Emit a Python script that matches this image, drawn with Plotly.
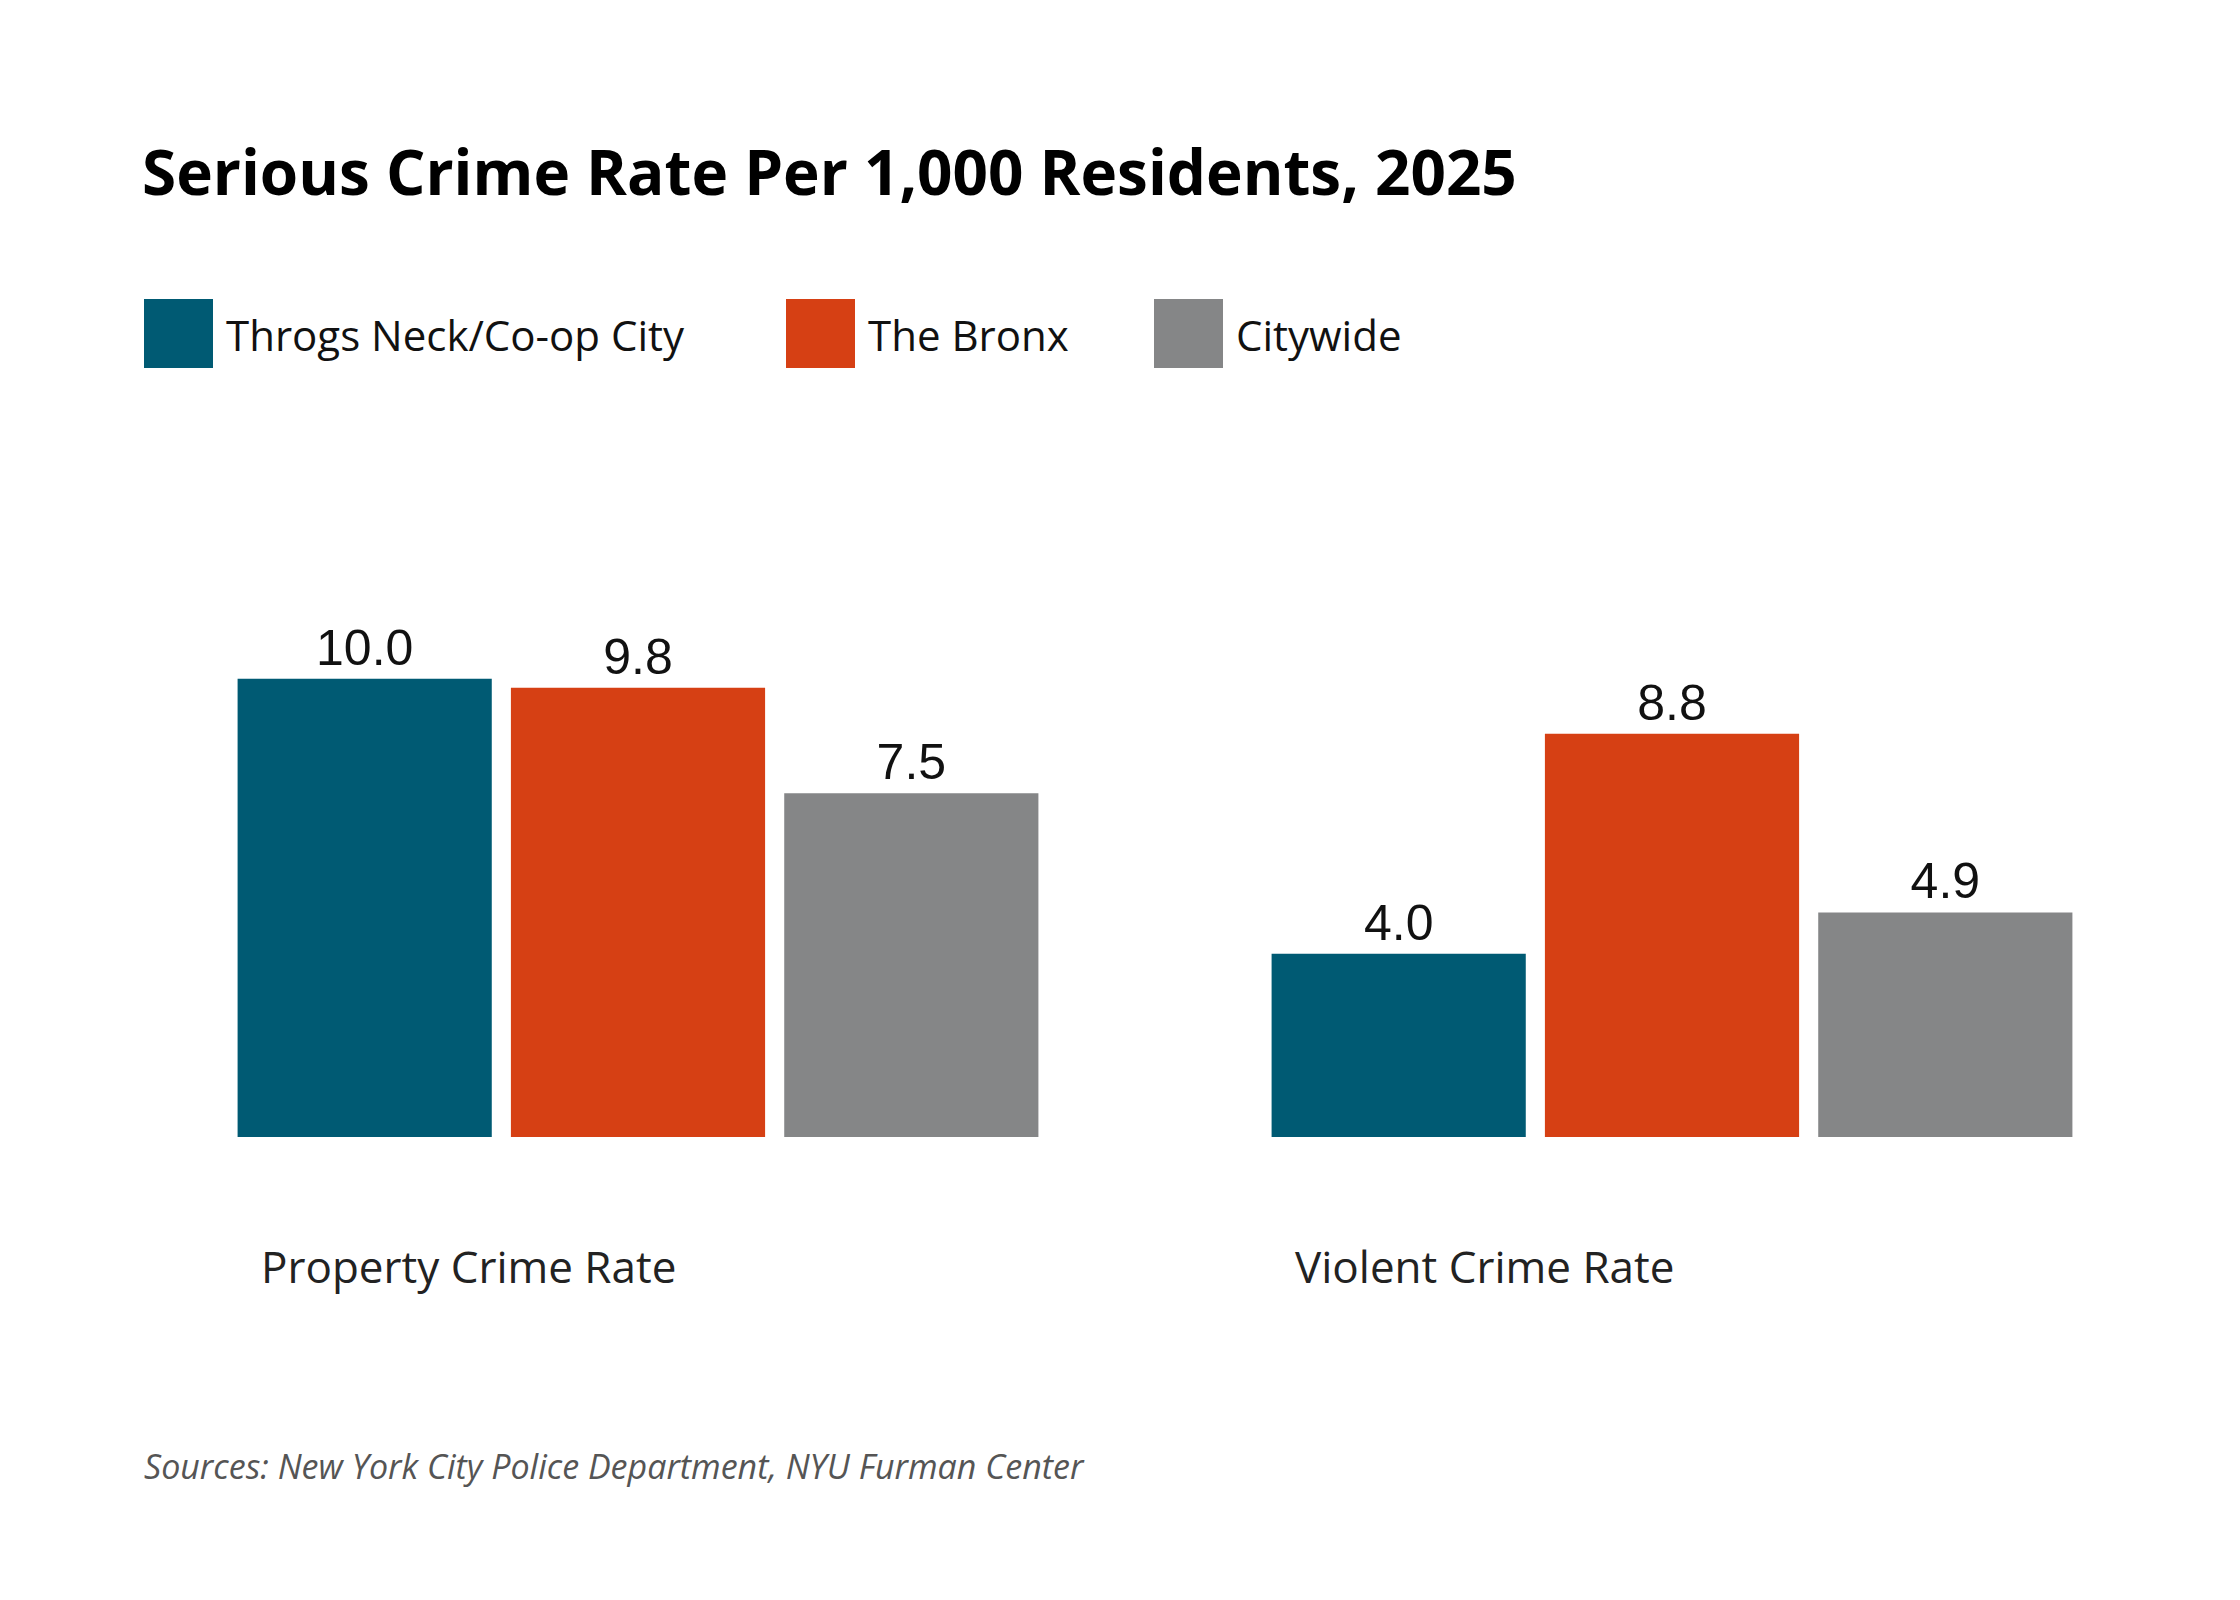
import plotly.graph_objects as go

categories = ["Property Crime Rate", "Violent Crime Rate"]
series_names = ["Throgs Neck/Co-op City", "The Bronx", "Citywide"]
series_values = [
    [10.0, 4.0],
    [9.8, 8.8],
    [7.5, 4.9],
]
colors = ["#005a73", "#d64014", "#858687"]

fig = go.Figure()
for name, vals, col in zip(series_names, series_values, colors):
    fig.add_trace(go.Bar(
        x=[0, 1], y=vals, name=name, marker_color=col, marker_line_width=0,
        text=[f"{v:.1f}" for v in vals], textposition="outside",
        textfont=dict(family="Liberation Sans", size=50, color="#111"),
        cliponaxis=False, showlegend=False,
    ))

# category labels, left-aligned near each group's first bar
for i, cat in enumerate(categories):
    fig.add_annotation(x=i - 0.367, y=0, yref="y", xref="x", text=cat,
                       showarrow=False, xanchor="left", yanchor="middle", yshift=-129,
                       font=dict(family="Open Sans", size=44, color="#222"))

# legend drawn by hand: big squares + labels
legend_x = [136, 778, 1146]
for name, col, lx in zip(series_names, colors, legend_x):
    fig.add_shape(type="rect", xref="paper", yref="paper",
                  x0=(lx - 113) / 2068, x1=(lx + 69 - 113) / 2068,
                  y0=(1129 - 360) / 698, y1=(1129 - 291) / 698,
                  fillcolor=col, line_width=0)
    fig.add_annotation(xref="paper", yref="paper", x=(lx + 80 - 113) / 2068,
                       y=(1129 - 326) / 698, text=name, showarrow=False,
                       xanchor="left", yanchor="middle",
                       font=dict(family="Open Sans", size=42, color="#111"))

fig.add_annotation(xref="paper", yref="paper", x=(134 - 113) / 2068,
                   y=(1129 - 1458) / 698, text="<i>Sources: New York City Police Department, NYU Furman Center</i>",
                   showarrow=False, xanchor="left", yanchor="middle",
                   font=dict(family="Open Sans", size=34, color="#555"))

fig.update_layout(
    width=2240, height=1600,
    margin=dict(l=113, r=59, t=431, b=471),
    paper_bgcolor="white", plot_bgcolor="white",
    barmode="group", bargap=0.207, bargroupgap=0.07,
    title=dict(text="<b>Serious Crime Rate Per 1,000 Residents, 2025</b>",
               x=134 / 2240, xanchor="left", y=1 - 165 / 1600, yanchor="middle",
               font=dict(family="Open Sans", size=62, color="#000")),
    xaxis=dict(range=[-0.5, 1.5], showticklabels=False, showgrid=False, zeroline=False),
    yaxis=dict(range=[0, 15.23], visible=False),
)

fig.write_html("out.html")
